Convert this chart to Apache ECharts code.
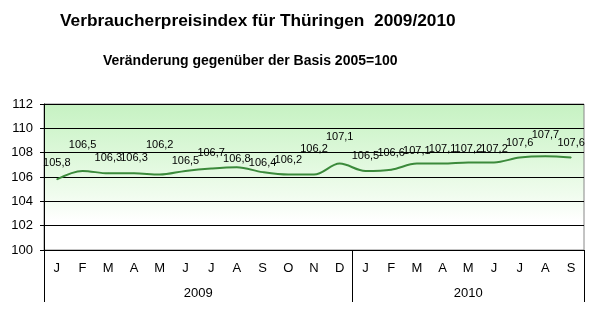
<!DOCTYPE html>
<html><head><meta charset="utf-8">
<script src="https://cdn.jsdelivr.net/npm/echarts@6/dist/echarts.min.js"></script>
<style>html,body{margin:0;padding:0;background:#fff}#c{width:594px;height:329px}</style>
</head><body><div id="c"></div>
<script>
const months = ['J','F','M','A','M','J','J','A','S','O','N','D','J','F','M','A','M','J','J','A','S'];
const years = ['2009','2010'];
const monthsInYear = [12, 9];
const values = [105.8,106.5,106.3,106.3,106.2,106.5,106.7,106.8,106.4,106.2,106.2,107.1,
                106.5,106.6,107.1,107.1,107.2,107.2,107.6,107.7,107.6];
const yTicks = [100,102,104,106,108,110,112];

// label lift (styling only)
const labelDy = [-17,-26,-16,-16,-30,-10,-16.5,-9,-9.5,-15.5,-26,-27,-15,-17,-13.5,-15,-14,-14,-15,-22,-15];

const fmt = v => Number(v).toFixed(1).replace('.', ',');
const bounds = [0];
monthsInYear.forEach(n => bounds.push(bounds[bounds.length-1] + n));
const yearCenters = years.map((y,i) => (bounds[i] + bounds[i+1]) / 2);

const chart = echarts.init(document.getElementById('c'), null, {renderer:'canvas'});
const F = 'Liberation Sans, Arial, sans-serif';
chart.setOption({
  animation:false,
  title:[
    {text:'Verbraucherpreisindex für Thüringen  2009/2010', left:55, top:8,
     textStyle:{fontFamily:F, fontSize:17.3, fontWeight:'bold', color:'#000'}},
    {text:'Veränderung gegenüber der Basis 2005=100', left:98, top:49,
     textStyle:{fontFamily:F, fontSize:14, fontWeight:'bold', color:'#000'}}
  ],
  grid:{left:44, right:10, top:104, bottom:79, show:true, borderColor:'#888', borderWidth:1,
    backgroundColor:{type:'linear', x:0, y:0, x2:0, y2:1, colorStops:[
      {offset:0, color:'#c6f2c2'},{offset:0.35, color:'#ddf8da'},{offset:0.62, color:'#f0fcee'},{offset:0.8, color:'#ffffff'},{offset:1, color:'#ffffff'}]}},
  xAxis:[
    {type:'category', data:months, boundaryGap:true,
     axisLine:{show:true, lineStyle:{color:'#000', width:1}},
     axisTick:{show:false},
     axisLabel:{fontFamily:F, fontSize:13, color:'#000', margin:12, interval:0}},
    {type:'value', min:0, max:bounds[bounds.length-1], position:'bottom',
     axisLine:{show:false},
     splitLine:{show:false},
     axisTick:{show:true, length:52, inside:false, customValues:bounds, lineStyle:{color:'#000'}},
     axisLabel:{fontFamily:F, fontSize:13, color:'#000', margin:37, customValues:yearCenters,
       formatter: v => { const i = yearCenters.indexOf(v); return i >= 0 ? years[i] : ''; }}}
  ],
  yAxis:{type:'value', min:100, max:112, interval:2,
    axisLine:{show:true, lineStyle:{color:'#000'}},
    axisTick:{show:true, length:4, lineStyle:{color:'#000'}},
    axisLabel:{fontFamily:F, fontSize:13, color:'#000', margin:11},
    splitLine:{show:true, lineStyle:{color:'#000', width:1}}},
  series:[{
    type:'line', xAxisIndex:0, yAxisIndex:0,
    data:values,
    smooth:0.35, symbol:'circle', symbolSize:1, showSymbol:true,
    itemStyle:{color:'#3b8a3b'},
    lineStyle:{color:'#3b8a3b', width:2},
    labelLayout: p => ({hideOverlap:false, dy: labelDy[p.dataIndex] + 6.5}),
    label:{show:true, position:'top', distance:0, formatter:p => fmt(p.value), fontFamily:F, fontSize:11, color:'#000'}
  }]
});
</script></body></html>
